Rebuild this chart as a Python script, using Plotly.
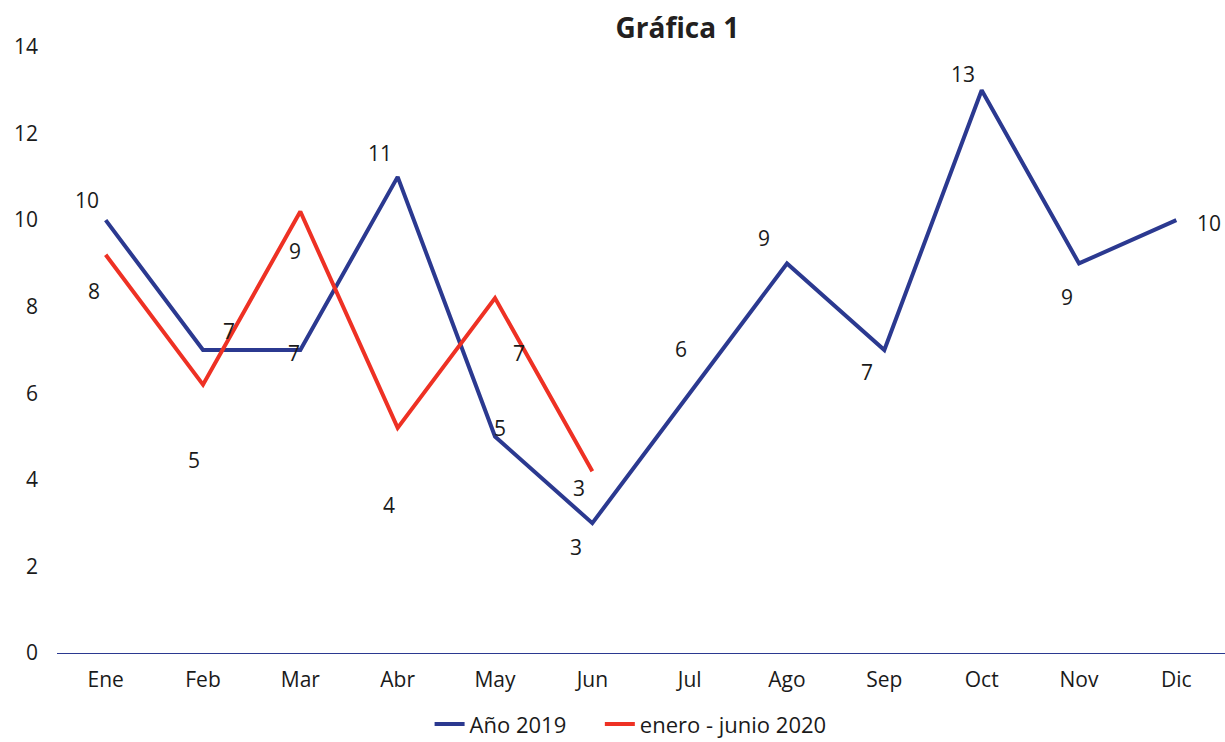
import plotly.graph_objects as go

months = ["Ene", "Feb", "Mar", "Abr", "May", "Jun", "Jul", "Ago", "Sep", "Oct", "Nov", "Dic"]
serie_2019 = [10, 7, 7, 11, 5, 3, 6, 9, 7, 13, 9, 10]
months_2020 = ["Ene", "Feb", "Mar", "Abr", "May", "Jun"]
serie_2020_line = [9.2, 6.2, 10.2, 5.2, 8.2, 4.2]
labels_2020 = [8, 5, 9, 4, 7, 3]

# label offsets in pixels (x, y)
off_2019 = [(-19, 20), (26, 19), (-6, -3), (-18, 24), (5, 9), (-16, -24),
            (-9, 44), (-23, 25), (-17, -22), (-19, 16), (-12, -34), (33, -3)]
off_2020 = [(-12, -36), (-9, -75), (-5, -40), (-9, -77), (24, -55), (-13, -17)]

BLUE = "#2B3990"
RED = "#EE3124"
FONT = "Open Sans"
FS = 21
NB = "\u00a0"

fig = go.Figure()
fig.add_trace(go.Scatter(x=months, y=serie_2019, mode="lines", name="Año 2019" + NB * 5,
                         line=dict(color=BLUE, width=4)))
fig.add_trace(go.Scatter(x=months_2020, y=serie_2020_line, mode="lines", name="enero - junio 2020",
                         line=dict(color=RED, width=4)))

for m, v, (dx, dy) in zip(months, serie_2019, off_2019):
    fig.add_annotation(x=m, y=v, text=str(v), showarrow=False, xshift=dx, yshift=dy,
                       font=dict(family=FONT, size=FS, color="#1a1a1a"))
for m, v, lab, (dx, dy) in zip(months_2020, serie_2020_line, labels_2020, off_2020):
    fig.add_annotation(x=m, y=v, text=str(lab), showarrow=False, xshift=dx, yshift=dy,
                       font=dict(family=FONT, size=FS, color="#1a1a1a"))

fig.update_layout(
    width=1225, height=742,
    paper_bgcolor="white", plot_bgcolor="white",
    margin=dict(l=57, r=0, t=47, b=89, autoexpand=False),
    title=dict(text="<b>Gráfica 1</b>", x=0.553, xanchor="center", y=0.962, yanchor="middle",
               font=dict(family=FONT, size=28, color="#231f20")),
    font=dict(family=FONT, size=FS, color="#1a1a1a"),
    showlegend=True,
    legend=dict(orientation="h", x=0.319, xanchor="left", yref="container", y=0.024, yanchor="middle",
                font=dict(family=FONT, size=22, color="#1a1a1a")),
    xaxis=dict(type="category", categoryorder="array", categoryarray=months,
               range=[-0.5, 11.5], showgrid=False, showline=True, linecolor=BLUE, linewidth=1,
               ticks="", ticklabelstandoff=8, automargin=False, tickfont=dict(family=FONT, size=FS)),
    yaxis=dict(range=[0, 14], dtick=2, showgrid=False, zeroline=False, showline=False,
               ticks="", ticklabelstandoff=18, automargin=False, tickfont=dict(family=FONT, size=FS)),
)

fig.write_html("out.html", config={"displayModeBar": False},
               post_script="document.body.style.margin='0';document.body.style.overflow='hidden';")
